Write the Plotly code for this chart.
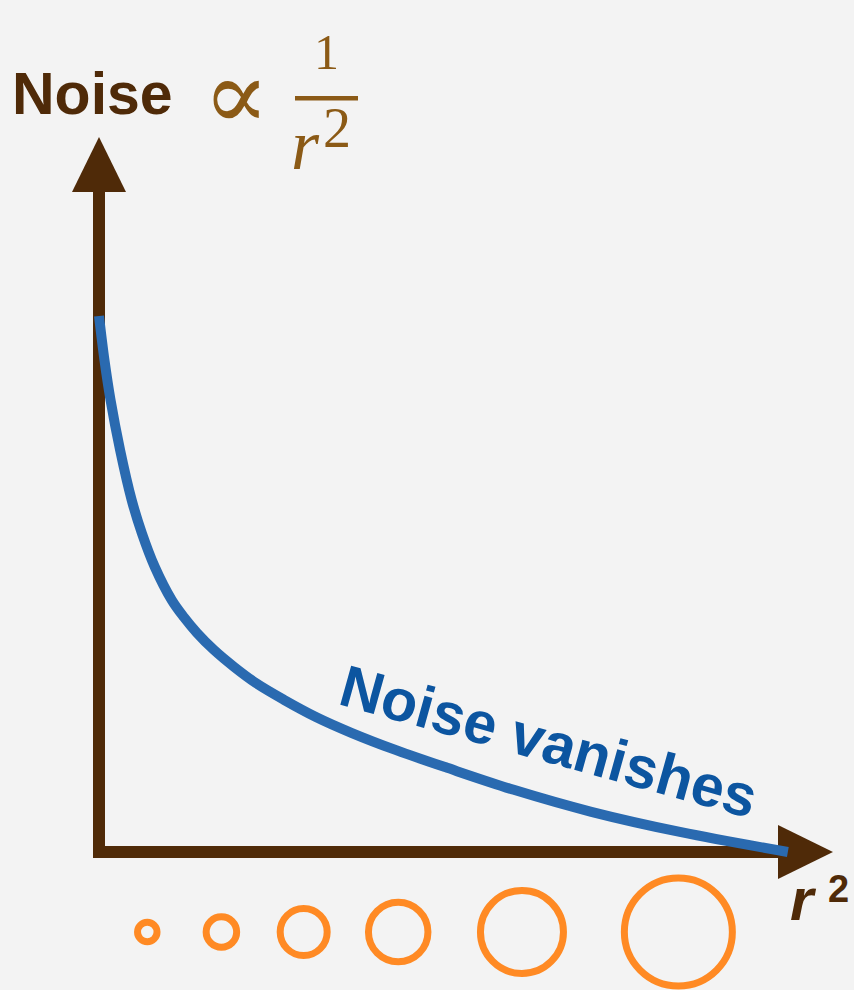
import plotly.graph_objects as go

# Noise level against r^2 (arbitrary units)
r2 = [0.00, 0.08, 0.17, 0.31, 0.48, 0.63, 0.82, 1.07, 1.25, 1.44, 1.69,
      1.99, 2.31, 2.72, 3.19, 3.72, 4.37, 5.12, 6.10, 7.24, 8.56, 10.13]
noise = [10.00, 9.18, 8.43, 7.50, 6.57, 5.95, 5.32, 4.70, 4.38, 4.09, 3.77,
         3.45, 3.15, 2.84, 2.52, 2.22, 1.90, 1.57, 1.16, 0.75, 0.37, 0.00]

# Rings drawn under the r^2 axis: position along r^2 and ring diameter
ring_r2 = [0.71, 1.80, 3.01, 4.40, 6.22, 8.52]
ring_size = [19.5, 30.5, 47, 59.5, 83, 108]

W, H = 854, 990
# pixel placement of the origin and pixels per unit on each axis
OX, OY = 99, 852
SX, SY = 68.0, 53.6

BROWN = "#4f2a08"
GOLD = "#8b5a16"
BLUE = "#2a6ab0"
LABEL_BLUE = "#0c55a0"
ORANGE = "#ff8a24"
BG = "#f3f3f3"


def fx(px):
    return (px - OX) / SX


def fy(py):
    return (OY - py) / SY


def path(points):
    return "M" + " L".join(f"{fx(a):.4f},{fy(b):.4f}" for a, b in points) + " Z"


fig = go.Figure()

fig.add_trace(go.Scatter(
    x=r2, y=noise, mode="lines",
    line=dict(color=BLUE, width=10, shape="spline", smoothing=1.0),
    hoverinfo="skip",
))

fig.add_trace(go.Scatter(
    x=ring_r2, y=[fy(932)] * len(ring_r2), mode="markers",
    marker=dict(symbol="circle-open", size=ring_size, color=ORANGE, opacity=1,
                line=dict(color=ORANGE, width=7)),
    hoverinfo="skip",
))

shapes = [
    # vertical (noise) axis and its arrowhead
    dict(type="line", x0=0, x1=0, y0=fy(858), y1=fy(190),
         line=dict(color=BROWN, width=12), layer="below"),
    dict(type="path", path=path([(72, 192), (126, 192), (99, 137)]),
         fillcolor=BROWN, line=dict(width=0), layer="below"),
    # horizontal (r^2) axis and its arrowhead
    dict(type="line", x0=fx(93), x1=fx(780), y0=0, y1=0,
         line=dict(color=BROWN, width=12), layer="below"),
    dict(type="path", path=path([(778, 825), (778, 879), (833, 852)]),
         fillcolor=BROWN, line=dict(width=0), layer="below"),
    # fraction bar of 1/r^2
    dict(type="line", x0=fx(295), x1=fx(358), y0=fy(98.3), y1=fy(98.3),
         line=dict(color=GOLD, width=4.5), layer="below"),
]

SANS = "Liberation Sans"
SERIF = "Liberation Serif"


def label(text, px, py, size, color, family=SANS, weight="normal",
          style="normal", xanchor="center", angle=0):
    return dict(
        text=text, x=fx(px), y=fy(py), xref="x", yref="y",
        xanchor=xanchor, yanchor="middle", showarrow=False, textangle=angle,
        font=dict(family=family, size=size, color=color, weight=weight,
                  style=style),
    )


annotations = [
    label("Noise", 10, 94, 59, BROWN, weight="bold", xanchor="left"),
    label("\u221d", 236, 95, 98, GOLD, family="DejaVu Serif"),
    label("1", 326, 52, 50, GOLD, family=SERIF),
    label("r", 305, 145, 72, GOLD, family=SERIF, style="italic"),
    label("2", 337, 128, 56, GOLD, family=SERIF),
    label("Noise vanishes", 549, 742, 59, LABEL_BLUE, weight="bold", angle=15.5),
    label("r", 803, 899, 60, BROWN, weight="bold", style="italic"),
    label("2", 838, 889, 38, BROWN, weight="bold"),
]

fig.update_layout(
    width=W, height=H,
    margin=dict(l=0, r=0, t=0, b=0),
    paper_bgcolor=BG, plot_bgcolor=BG,
    showlegend=False,
    xaxis=dict(range=[fx(0), fx(W)], visible=False, fixedrange=True),
    yaxis=dict(range=[fy(H), fy(0)], visible=False, fixedrange=True),
    shapes=shapes,
    annotations=annotations,
)

fig.write_html("out.html", config={"displayModeBar": False})
